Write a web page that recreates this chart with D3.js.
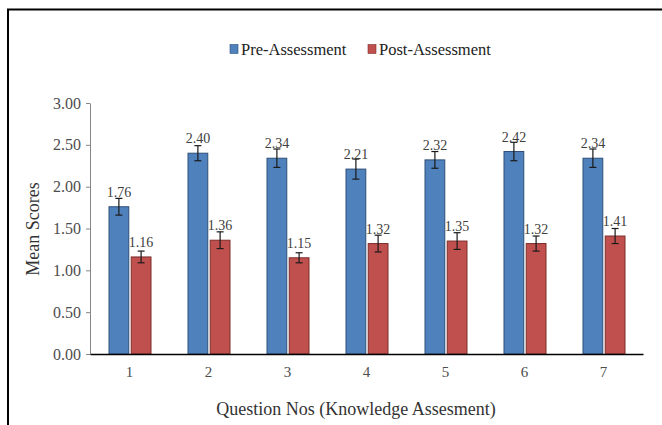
<!DOCTYPE html>
<html>
<head>
<meta charset="utf-8">
<script src="https://cdn.jsdelivr.net/npm/d3@7"></script>
<style>
  body { margin: 0; background: #fff; }
  text { font-family: "Liberation Serif", "Times New Roman", serif; }
</style>
</head>
<body>
<svg id="chart" width="662" height="425"></svg>
<script>
// question numbers on the x axis
var questions = ["1", "2", "3", "4", "5", "6", "7"];
// mean scores
var preScores  = [1.76, 2.40, 2.34, 2.21, 2.32, 2.42, 2.34];
var postScores = [1.16, 1.36, 1.15, 1.32, 1.35, 1.32, 1.41];
// error bar half widths
var preErr  = [0.10, 0.09, 0.11, 0.12, 0.10, 0.11, 0.11];
var postErr = [0.07, 0.10, 0.06, 0.10, 0.10, 0.09, 0.09];
var seriesNames = ["Pre-Assessment", "Post-Assessment"];
var yTicks = [0, 0.5, 1, 1.5, 2, 2.5, 3];

var svg = d3.select("#chart");

// outer frame (runs off the right and bottom edge)
svg.append("rect").attr("x", 8).attr("y", 9.5).attr("width", 700).attr("height", 500)
  .attr("fill", "none").attr("stroke", "#000").attr("stroke-width", 2);

var plotL = 90, plotR = 643, plotT = 103, plotB = 354;

var x = d3.scaleBand().domain(questions).range([plotL, plotR]);
var y = d3.scaleLinear().domain([0, 3]).range([plotB, plotT]);
var inner = d3.scaleBand().domain(seriesNames).range([-20.5, 21.5]).paddingInner(0.11);

var colors = {"Pre-Assessment": "#4f81bd", "Post-Assessment": "#c0504d"};
var strokes = {"Pre-Assessment": "#2e4f78", "Post-Assessment": "#7d2d2b"};

// y axis
var yAxis = svg.append("g").attr("transform", "translate(" + plotL + ",0)")
  .call(d3.axisLeft(y).tickValues(yTicks).tickFormat(d3.format(".2f")).tickSize(4).tickSizeOuter(0));
yAxis.select(".domain").attr("stroke", "#868686");
yAxis.selectAll(".tick line").attr("stroke", "#868686");
yAxis.selectAll("text").attr("fill", "#4d4d4d").style("font-size", "16px")
  .style("font-family", "Liberation Serif").attr("x", -9);

// bars
var rows = questions.map(function(q, i) {
  return [
    {q: q, s: seriesNames[0], v: preScores[i], e: preErr[i]},
    {q: q, s: seriesNames[1], v: postScores[i], e: postErr[i]}
  ];
}).flat();

var g = svg.append("g");
g.selectAll("rect.bar").data(rows).enter().append("rect").attr("class", "bar")
  .attr("x", function(d) { return x(d.q) + x.bandwidth() / 2 + inner(d.s); })
  .attr("y", function(d) { return y(d.v); })
  .attr("width", inner.bandwidth())
  .attr("height", function(d) { return plotB - y(d.v); })
  .attr("fill", function(d) { return colors[d.s]; })
  .attr("stroke", function(d) { return strokes[d.s]; })
  .attr("stroke-width", 1);

// error bars
function cx(d) { return x(d.q) + x.bandwidth() / 2 + inner(d.s) + inner.bandwidth() / 2; }
var eb = g.selectAll("g.err").data(rows).enter().append("g").attr("class", "err")
  .attr("stroke", "#1a1a1a").attr("stroke-width", 1.2);
eb.append("line").attr("x1", cx).attr("x2", cx)
  .attr("y1", function(d) { return y(d.v + d.e); }).attr("y2", function(d) { return y(d.v - d.e); });
eb.append("line").attr("x1", function(d) { return cx(d) - 3.5; }).attr("x2", function(d) { return cx(d) + 3.5; })
  .attr("y1", function(d) { return y(d.v + d.e); }).attr("y2", function(d) { return y(d.v + d.e); });
eb.append("line").attr("x1", function(d) { return cx(d) - 3.5; }).attr("x2", function(d) { return cx(d) + 3.5; })
  .attr("y1", function(d) { return y(d.v - d.e); }).attr("y2", function(d) { return y(d.v - d.e); });

// value labels
g.selectAll("text.val").data(rows).enter().append("text").attr("class", "val")
  .attr("x", cx).attr("y", function(d) { return y(d.v) - 10; })
  .attr("text-anchor", "middle").attr("fill", "#404040").style("font-size", "14px")
  .text(function(d) { return d3.format(".2f")(d.v); });

// x axis
var xAxis = svg.append("g").attr("transform", "translate(0," + plotB + ")")
  .call(d3.axisBottom(x).tickSize(0).tickPadding(12));
xAxis.select(".domain").attr("stroke", "#000").attr("stroke-width", 1.3);
xAxis.selectAll("text").attr("fill", "#4d4d4d").style("font-size", "15px")
  .style("font-family", "Liberation Serif");

// axis titles
svg.append("text").attr("x", 356).attr("y", 415).attr("text-anchor", "middle")
  .attr("fill", "#333").style("font-size", "18px").text("Question Nos (Knowledge Assesment)");
svg.append("text").attr("transform", "translate(39,229) rotate(-90)").attr("text-anchor", "middle")
  .attr("fill", "#333").style("font-size", "18px").text("Mean Scores");

// legend
var legendX = [230, 368];
var lg = svg.selectAll("g.leg").data(seriesNames).enter().append("g").attr("class", "leg")
  .attr("transform", function(d, i) { return "translate(" + legendX[i] + ",49)"; });
lg.append("rect").attr("x", 0).attr("y", -4.5).attr("width", 8).attr("height", 9)
  .attr("fill", function(d) { return colors[d]; }).attr("stroke", function(d) { return strokes[d]; }).attr("stroke-width", 0.6);
lg.append("text").attr("x", 11).attr("y", 5.5).attr("fill", "#222").style("font-size", "16.5px")
  .text(function(d) { return d; });
</script>
</body>
</html>
